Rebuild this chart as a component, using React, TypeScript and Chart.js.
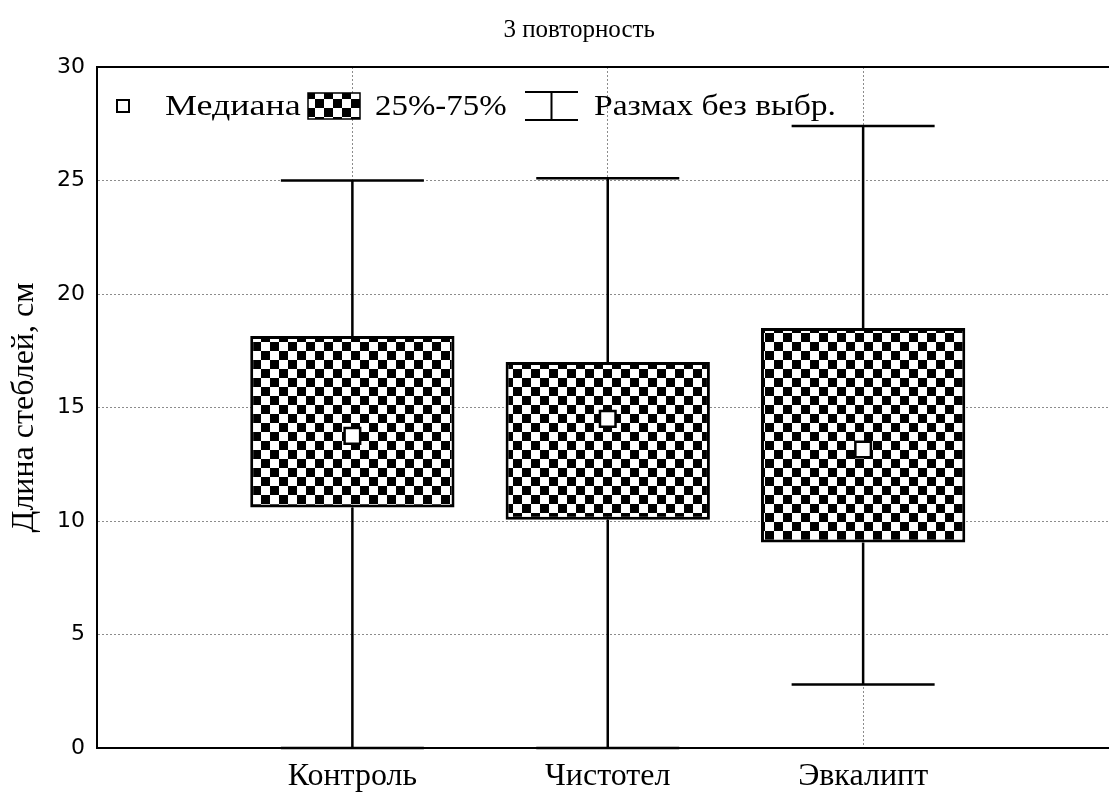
import React, { useEffect, useRef } from 'react';
import { Chart, registerables } from 'chart.js';

Chart.register(...registerables);

// ---- data ----
const categories = ['Контроль', 'Чистотел', 'Эвкалипт'];
const medians = [13.75, 14.5, 13.15];
const q1 = [10.6, 10.05, 9.05];
const q3 = [18.15, 17.0, 18.5];
const whiskerMin = [0, 0, 2.8];
const whiskerMax = [25.0, 25.1, 27.4];
const yMin = 0;
const yMax = 30;
const yStep = 5;
const legendLabels = ['Медиана', '25%-75%', 'Размах без выбр.'];
const titleText = '3 повторность';
const yTitleText = 'Длина стеблей, см';

const SERIF = '"Liberation Serif", "Times New Roman", serif';
const SANS = '"DejaVu Sans", sans-serif';
const LEGEND_FONT = 30;
const LEGEND_HSCALE = 1.12;

function makeChecker(ctx: CanvasRenderingContext2D, cell: number): CanvasPattern | string {
  const c = document.createElement('canvas');
  c.width = cell * 2;
  c.height = cell * 2;
  const g = c.getContext('2d');
  if (!g) return '#777';
  g.fillStyle = '#fff';
  g.fillRect(0, 0, cell * 2, cell * 2);
  g.fillStyle = '#000';
  g.fillRect(0, 0, cell, cell);
  g.fillRect(cell, cell, cell, cell);
  return ctx.createPattern(c, 'repeat') || '#777';
}

export default function App() {
  const ref = useRef<HTMLCanvasElement | null>(null);

  useEffect(() => {
    const canvas = ref.current;
    if (!canvas) return;
    const ctx0 = canvas.getContext('2d') as CanvasRenderingContext2D;
    const pattern = makeChecker(ctx0, 9);

    const whiskerPlugin = {
      id: 'whiskers',
      afterDatasetsDraw(chart: any) {
        const { ctx, scales } = chart;
        const x = scales.x;
        const y = scales.y;
        const spacing = Math.abs(x.getPixelForValue(2) - x.getPixelForValue(1));
        const capHalf = spacing * 0.28;
        ctx.save();
        ctx.strokeStyle = '#000';
        ctx.lineCap = 'butt';
        categories.forEach((_, i) => {
          const px = x.getPixelForValue(i + 1);
          const pMax = y.getPixelForValue(whiskerMax[i]);
          const pMin = y.getPixelForValue(whiskerMin[i]);
          const p3 = y.getPixelForValue(q3[i]);
          const p1 = y.getPixelForValue(q1[i]);
          ctx.lineWidth = 2.5;
          ctx.beginPath();
          ctx.moveTo(px, pMax);
          ctx.lineTo(px, p3);
          ctx.moveTo(px, p1);
          ctx.lineTo(px, pMin);
          ctx.stroke();
          ctx.beginPath();
          ctx.moveTo(px - capHalf, pMax);
          ctx.lineTo(px + capHalf, pMax);
          ctx.moveTo(px - capHalf, pMin);
          ctx.lineTo(px + capHalf, pMin);
          ctx.stroke();
        });
        ctx.restore();
      },
    };

    const framePlugin = {
      id: 'frame',
      afterDraw(chart: any) {
        const { ctx, chartArea } = chart;
        ctx.save();
        ctx.strokeStyle = '#000';
        ctx.lineWidth = 2;
        ctx.beginPath();
        ctx.moveTo(chartArea.left - 1, chartArea.top);
        ctx.lineTo(chartArea.right + 2, chartArea.top);
        ctx.stroke();
        // title
        ctx.fillStyle = '#000';
        ctx.font = `25px ${SERIF}`;
        ctx.textAlign = 'center';
        ctx.textBaseline = 'middle';
        const tx = chartArea.left + (chartArea.right - chartArea.left) * 0.472;
        ctx.fillText(titleText, tx, chartArea.top - 37);
        ctx.restore();
      },
    };

    const legendPlugin = {
      id: 'customLegend',
      afterDraw(chart: any) {
        const { ctx, chartArea } = chart;
        const left = chartArea.left;
        const cy = chartArea.top + 39;
        ctx.save();
        ctx.font = `${LEGEND_FONT}px ${SERIF}`;
        ctx.textBaseline = 'middle';
        const drawText = (t: string, x: number, hs: number) => {
          ctx.save();
          ctx.translate(x, cy + 1);
          ctx.scale(hs, 1);
          ctx.fillStyle = '#000';
          ctx.fillText(t, 0, 0);
          ctx.restore();
        };
        // median marker
        ctx.fillStyle = '#fff';
        ctx.strokeStyle = '#000';
        ctx.lineWidth = 2;
        ctx.fillRect(left + 20, cy - 6, 12, 12);
        ctx.strokeRect(left + 20, cy - 6, 12, 12);
        drawText(legendLabels[0], left + 68, 1.2);
        // box swatch
        const sx = left + 211;
        ctx.fillStyle = pattern as any;
        ctx.fillRect(sx, cy - 13, 52, 26);
        ctx.lineWidth = 1.5;
        ctx.strokeRect(sx, cy - 13, 52, 26);
        drawText(legendLabels[1], left + 278, LEGEND_HSCALE * 0.98);
        // whisker icon
        const wx = left + 428;
        ctx.lineWidth = 2;
        ctx.strokeStyle = '#000';
        ctx.beginPath();
        ctx.moveTo(wx, cy - 14);
        ctx.lineTo(wx + 53, cy - 14);
        ctx.moveTo(wx, cy + 14);
        ctx.lineTo(wx + 53, cy + 14);
        ctx.moveTo(wx + 26.5, cy - 14);
        ctx.lineTo(wx + 26.5, cy + 14);
        ctx.stroke();
        drawText(legendLabels[2], left + 497, LEGEND_HSCALE);
        ctx.restore();
      },
    };

    const chart = new Chart(canvas, {
      type: 'bar',
      data: {
        datasets: [
          {
            type: 'bar',
            data: categories.map((_, i) => ({ x: i + 1, y: [q1[i], q3[i]] })) as any,
            backgroundColor: pattern as any,
            borderColor: '#000',
            borderWidth: 3,
            borderSkipped: false,
            categoryPercentage: 0.8,
            barPercentage: 1,
            order: 2,
          } as any,
          {
            type: 'scatter',
            data: categories.map((_, i) => ({ x: i + 1, y: medians[i] })),
            pointStyle: 'rect',
            pointRadius: 11,
            backgroundColor: '#fff',
            borderColor: '#000',
            borderWidth: 2.5,
            order: 1,
          } as any,
        ],
      },
      options: {
        responsive: false,
        animation: false,
        events: [],
        layout: { padding: { top: 67, left: 0, right: 0, bottom: 0 } },
        plugins: {
          legend: { display: false },
          tooltip: { enabled: false },
          title: { display: false },
        },
        scales: {
          x: {
            type: 'linear',
            min: 0,
            max: categories.length + 1,
            offset: false,
            afterFit(scale: any) {
              scale.height = 45;
            },
            afterBuildTicks(scale: any) {
              scale.ticks = categories.map((_, i) => ({ value: i + 1 }));
            },
            ticks: {
              autoSkip: false,
              maxRotation: 0,
              padding: 9,
              color: '#000',
              font: { family: SERIF, size: 32 },
              callback: (v: any) => categories[Number(v) - 1] ?? '',
            },
            grid: {
              offset: false,
              drawTicks: false,
              color: '#8c8c8c',
              lineWidth: 1,
            },
            border: { display: true, color: '#000', width: 2, dash: [2, 2] },
          } as any,
          y: {
            type: 'linear',
            min: yMin,
            max: yMax,
            afterFit(scale: any) {
              scale.width = 97;
            },
            ticks: {
              stepSize: yStep,
              padding: 12,
              color: '#000',
              font: { family: SANS, size: 22 },
            },
            grid: {
              drawTicks: false,
              color: (c: any) =>
                c.tick && (c.tick.value === yMin || c.tick.value === yMax) ? 'rgba(0,0,0,0)' : '#8c8c8c',
              lineWidth: 1,
            },
            border: { display: true, color: '#000', width: 2, dash: [2, 2] },
            title: {
              display: true,
              text: yTitleText,
              color: '#000',
              font: { family: SERIF, size: 32 },
              padding: { top: 5, bottom: 0 },
            },
          } as any,
        },
      } as any,
      plugins: [whiskerPlugin, framePlugin, legendPlugin],
    });

    return () => chart.destroy();
  }, []);

  return (
    <div
      style={{
        position: 'fixed',
        left: 0,
        top: 0,
        width: 1109,
        height: 793,
        overflow: 'hidden',
        background: '#fff',
      }}
    >
      <canvas ref={ref} width={1132} height={793} style={{ width: 1132, height: 793, display: 'block' }} />
    </div>
  );
}
